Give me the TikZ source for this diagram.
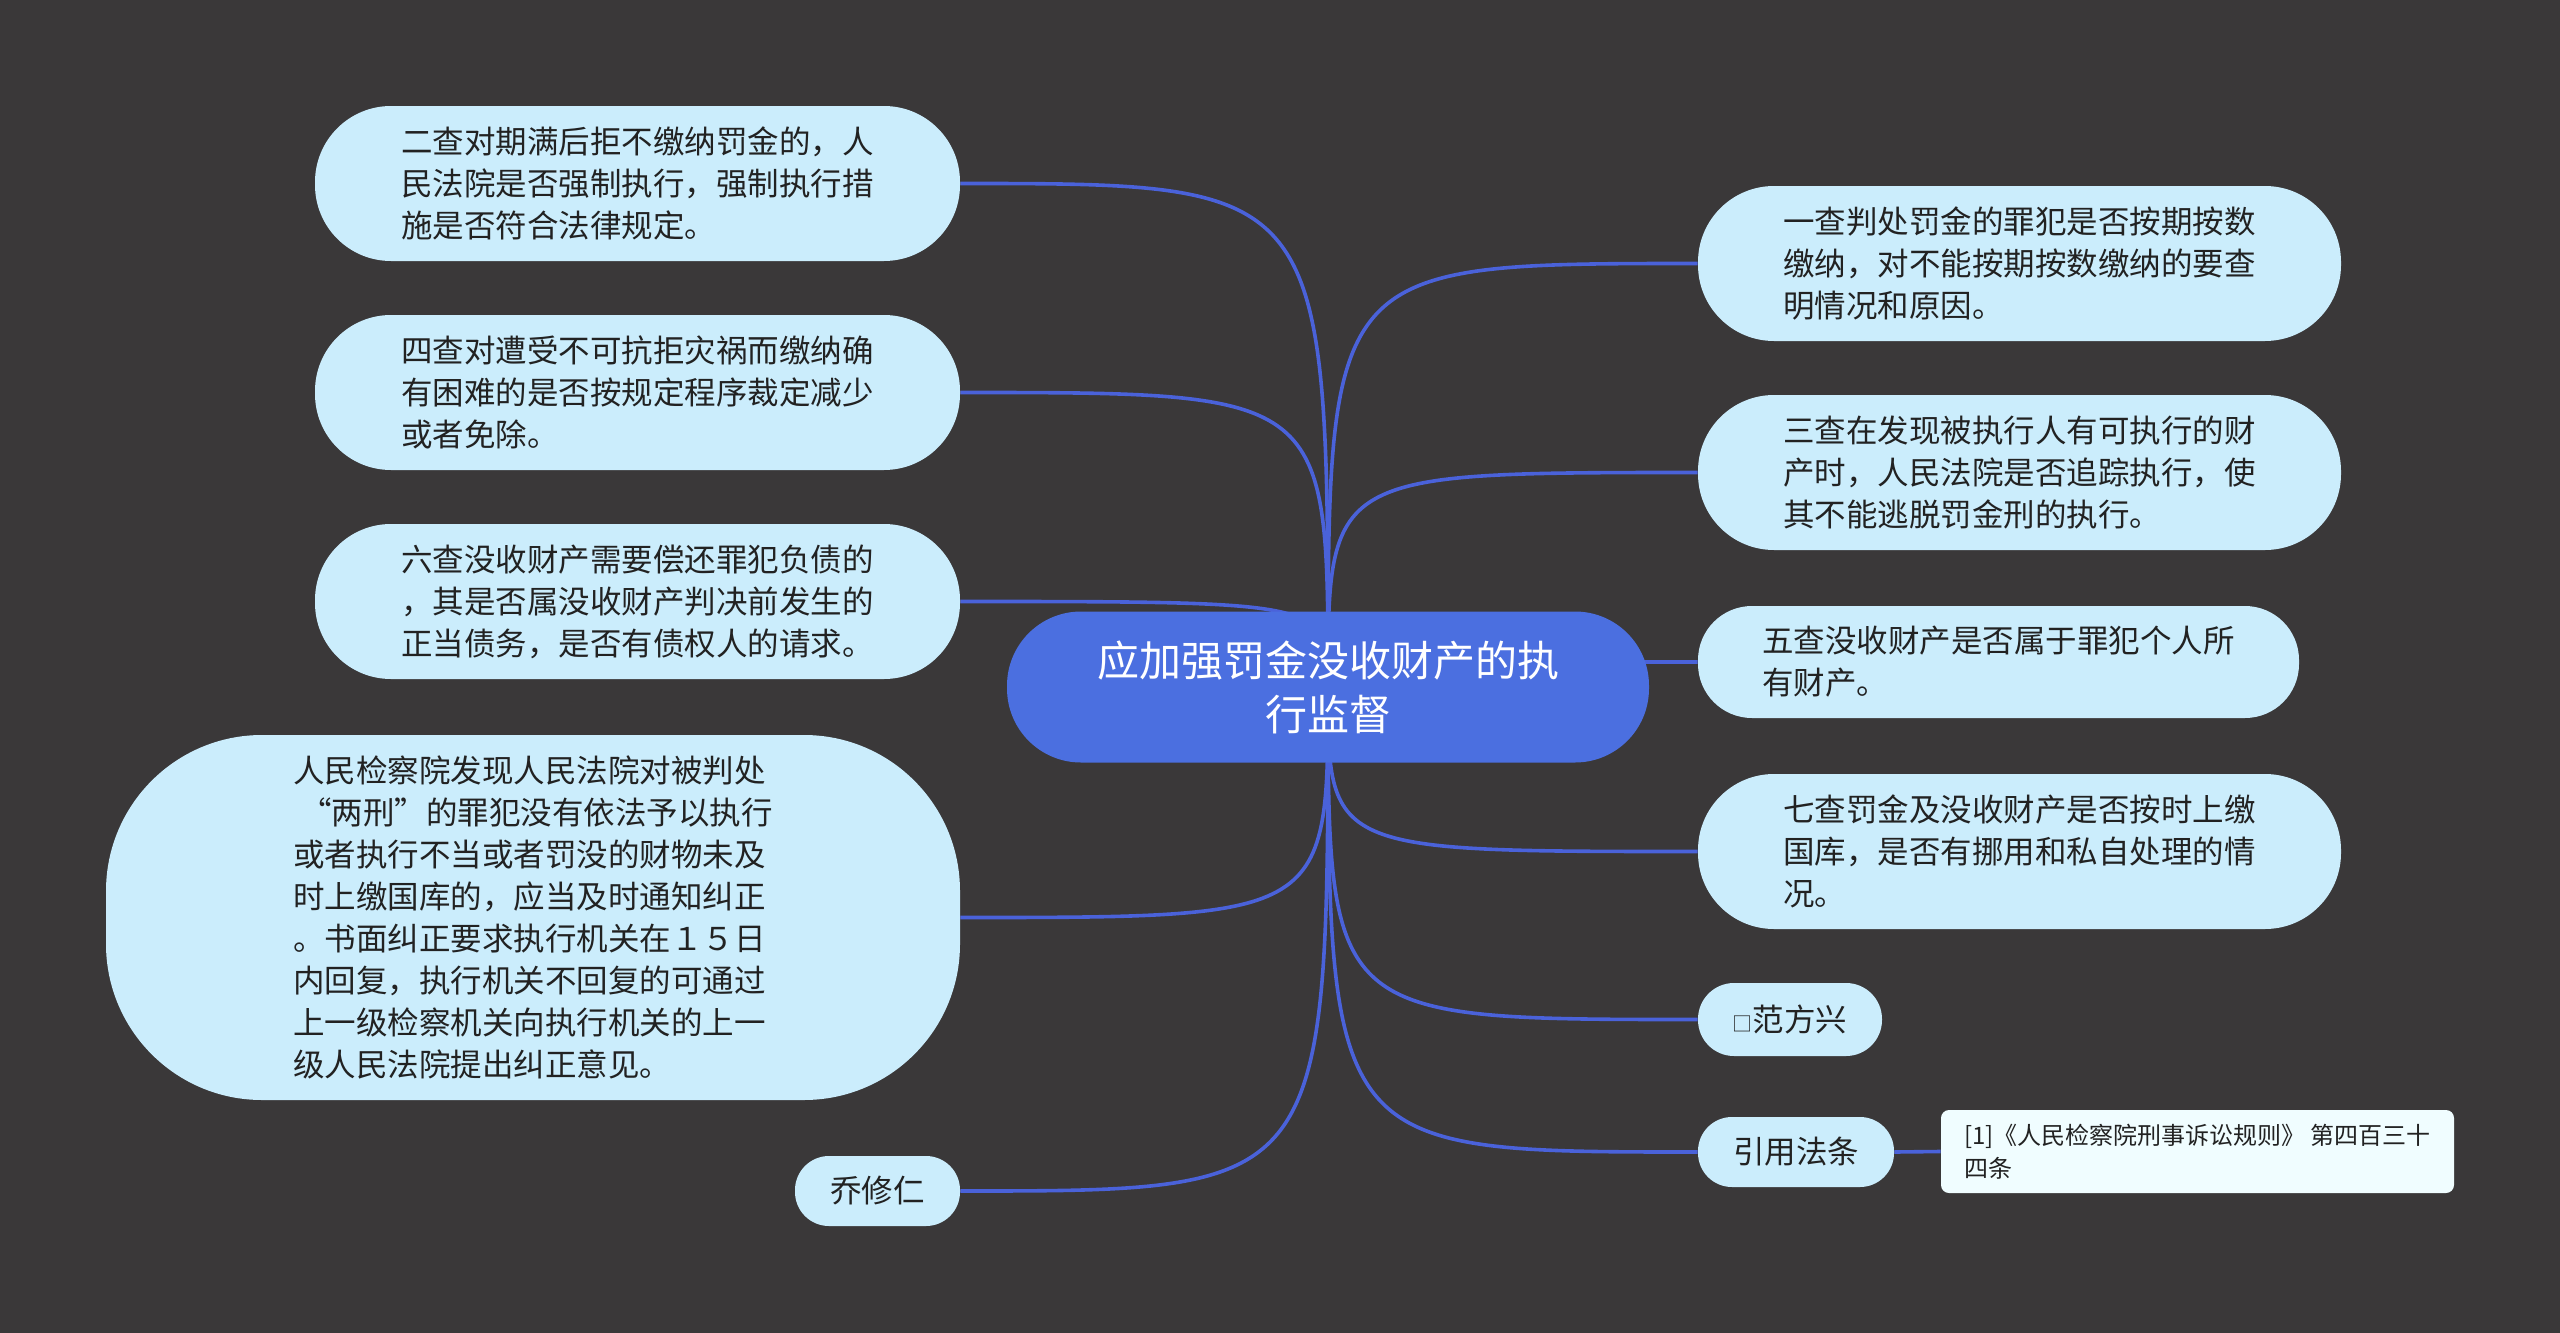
\documentclass[tikz,border=0pt]{standalone}
\usepackage{fontspec}
\setmainfont{Noto Sans CJK SC}
\usetikzlibrary{backgrounds}
\definecolor{bgc}{HTML}{3A3839}
\definecolor{rootc}{HTML}{4B6FE0}
\definecolor{leafc}{HTML}{CBEDFC}
\definecolor{notec}{HTML}{F0FDFF}
\definecolor{linkc}{HTML}{4A62DA}
\definecolor{inkc}{HTML}{222222}
\tikzset{
  pill/.style n args={3}{minimum width=#1, minimum height=#2, rounded corners=#3},
  leaf/.style={fill=leafc, text=inkc, inner sep=0pt, align=left, font=\fontsize{15.75}{21}\selectfont},
  rootnode/.style={fill=rootc, text=white, inner sep=0pt, align=center, font=\fontsize{21}{27}\selectfont},
  notebox/.style={fill=notec, text=inkc, inner sep=0pt, align=left, font=\fontsize{12}{16.5}\selectfont},
  link/.style={draw=linkc, line width=1.8pt}
}
\begin{document}
\begin{tikzpicture}[x=0.5pt,y=-0.5pt]
\useasboundingbox (0,0) rectangle (2560,1333);

\node[rootnode, pill={321pt}{75.5pt}{37pt}] (c) at (1328,687) {应加强罚金没收财产的执\\行监督};

\node[leaf, pill={322.5pt}{77.5pt}{38pt}] (l1) at (637.5,183.5) {二查对期满后拒不缴纳罚金的，人\\民法院是否强制执行，强制执行措\\施是否符合法律规定。\hspace{8pt}};
\node[leaf, pill={322.5pt}{77.5pt}{38pt}] (l2) at (637.5,392.5) {四查对遭受不可抗拒灾祸而缴纳确\\有困难的是否按规定程序裁定减少\\或者免除。\hspace{8pt}};
\node[leaf, pill={322.5pt}{77.5pt}{38pt}] (l3) at (637.5,601.5) {六查没收财产需要偿还罪犯负债的\\，其是否属没收财产判决前发生的\\正当债务，是否有债权人的请求。\hspace{8pt}};
\node[leaf, pill={427pt}{182.5pt}{78pt}] (l4) at (533,917.5) {人民检察院发现人民法院对被判处\\\ “两刑”的罪犯没有依法予以执行\\或者执行不当或者罚没的财物未及\\时上缴国库的，应当及时通知纠正\\。书面纠正要求执行机关在１５日\\内回复，执行机关不回复的可通过\\上一级检察机关向执行机关的上一\\级人民法院提出纠正意见。};
\node[leaf, pill={82.5pt}{35pt}{17pt}] (l5) at (877.5,1191) {乔修仁};

\node[leaf, pill={321.5pt}{77.5pt}{38pt}] (r1) at (2019.5,263.5) {一查判处罚金的罪犯是否按期按数\\缴纳，对不能按期按数缴纳的要查\\明情况和原因。\hspace{8pt}};
\node[leaf, pill={321.5pt}{77.5pt}{38pt}] (r2) at (2019.5,472.5) {三查在发现被执行人有可执行的财\\产时，人民法院是否追踪执行，使\\其不能逃脱罚金刑的执行。\hspace{8pt}};
\node[leaf, pill={300.5pt}{56pt}{27pt}] (r3) at (1998.5,662) {五查没收财产是否属于罪犯个人所\\有财产。\hspace{8pt}};
\node[leaf, pill={321.5pt}{77.5pt}{38pt}] (r4) at (2019.5,851.5) {七查罚金及没收财产是否按时上缴\\国库，是否有挪用和私自处理的情\\况。\hspace{8pt}};
\node[leaf, pill={92pt}{36.5pt}{18pt}] (r5) at (1790,1019.5) {{\fontsize{10}{12}\selectfont □}范方兴};
\node[leaf, pill={98pt}{35pt}{17pt}] (r6) at (1796,1152) {引用法条};
\node[notebox, minimum width=256.5pt, minimum height=41.5pt, rounded corners=4pt] (n1) at (2197.5,1151.5) {[1]《人民检察院刑事诉讼规则》 第四百三十\\四条};

\begin{pgfonlayer}{background}
\fill[bgc] (0,0) rectangle (2560,1333);
\foreach \t in {l1,l2,l3,l4,l5}
  \draw[link] (c.center) .. controls (c.center |- \t.east) .. (\t.east);
\foreach \t in {r1,r2,r3,r4,r5,r6}
  \draw[link] (c.center) .. controls (c.center |- \t.west) .. (\t.west);
\draw[link] (r6.east) -- (n1.west);
\end{pgfonlayer}
\end{tikzpicture}
\end{document}
